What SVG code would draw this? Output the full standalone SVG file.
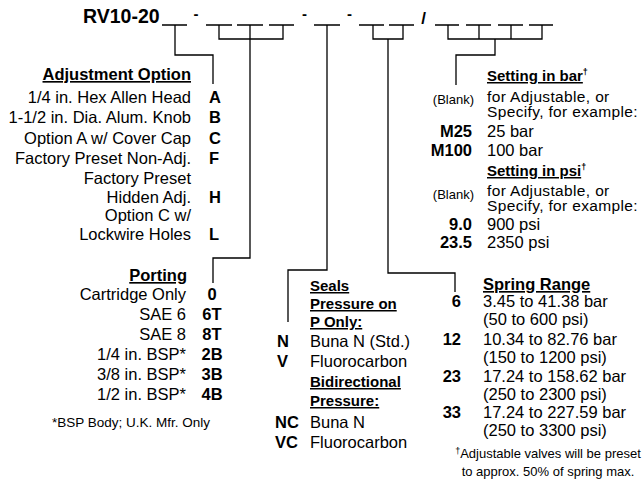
<svg xmlns="http://www.w3.org/2000/svg" width="643" height="488" viewBox="0 0 643 488">
<style>
text{font-family:"Liberation Sans",Arial,sans-serif;fill:#000;}
.r{font-size:16.5px;}
.c{font-size:15.5px;letter-spacing:0.35px;}
.b{font-size:16.5px;font-weight:bold;}
.h{font-size:16.5px;font-weight:bold;text-decoration:underline;}
.hs{font-size:15px;font-weight:bold;text-decoration:underline;}
.s{font-size:13px;}
.e{text-anchor:end;}
.m{text-anchor:middle;}
.ln{fill:none;stroke:#000;stroke-width:1.3;}
</style>
<rect width="643" height="488" fill="#fff"/>
<g id="header">
<text x="83" y="22.5" style="font-size:19.5px;font-weight:bold">RV10-20</text>
<g class="ln">
<path d="M162,25H187M206,25H232M237,25H263M269,25H294M314,25H340M359,25H384M389,25H414M435,25H459M466,25H491M498,25H523M529,25H553"/>
</g>
<text x="196" y="19" class="m" style="font-size:15px;font-weight:bold">-</text>
<text x="304.5" y="19" class="m" style="font-size:15px;font-weight:bold">-</text>
<text x="349.5" y="19" class="m" style="font-size:15px;font-weight:bold">-</text>
<text x="423.5" y="24" class="m" style="font-size:17px;font-weight:bold">/</text>
</g>
<g id="connectors" class="ln">
<path d="M175,25V55H213V84"/>
<path d="M219,25V39H283V25M250,25V258H213V283"/>
<path d="M327,25V270H288V322"/>
<path d="M373,25V39H403V25M388,39V273H455V292"/>
<path d="M448,25V39H542V25M479,25V39M511,25V39M495,39V55H456V85"/>
</g>
<g id="adjustment">
<text x="191" y="80" class="h e">Adjustment Option</text>
<text x="191" y="103" class="r e">1/4 in. Hex Allen Head</text>
<text x="191" y="123" class="r e">1-1/2 in. Dia. Alum. Knob</text>
<text x="191" y="144" class="r e">Option A w/ Cover Cap</text>
<text x="191" y="164" class="r e">Factory Preset Non-Adj.</text>
<text x="191" y="184" class="r e">Factory Preset</text>
<text x="191" y="203" class="r e">Hidden Adj.</text>
<text x="191" y="221" class="r e">Option C w/</text>
<text x="191" y="240" class="r e">Lockwire Holes</text>
<text x="209" y="103" class="b">A</text>
<text x="209" y="123" class="b">B</text>
<text x="209" y="144" class="b">C</text>
<text x="209" y="164" class="b">F</text>
<text x="209" y="203" class="b">H</text>
<text x="209" y="240" class="b">L</text>
</g>
<g id="porting">
<text x="187" y="281" class="h e">Porting</text>
<text x="186" y="300" class="r e">Cartridge Only</text>
<text x="186" y="320" class="r e">SAE 6</text>
<text x="186" y="340" class="r e">SAE 8</text>
<text x="186" y="360" class="r e">1/4 in. BSP*</text>
<text x="186" y="380" class="r e">3/8 in. BSP*</text>
<text x="186" y="400" class="r e">1/2 in. BSP*</text>
<text x="212" y="300" class="b m">0</text>
<text x="212" y="320" class="b m">6T</text>
<text x="212" y="340" class="b m">8T</text>
<text x="212" y="360" class="b m">2B</text>
<text x="212" y="380" class="b m">3B</text>
<text x="212" y="400" class="b m">4B</text>
<text x="131" y="427" class="m" style="font-size:13.5px">*BSP Body; U.K. Mfr. Only</text>
</g>
<g id="seals">
<text x="310" y="291" class="hs">Seals</text>
<text x="310" y="309" class="hs">Pressure on</text>
<text x="310" y="327" class="hs">P Only:</text>
<text x="277" y="347" class="b">N</text>
<text x="310" y="347" class="r">Buna N (Std.)</text>
<text x="277" y="367" class="b">V</text>
<text x="310" y="367" class="r">Fluorocarbon</text>
<text x="310" y="387" class="hs">Bidirectional</text>
<text x="310" y="406" class="hs">Pressure:</text>
<text x="275" y="428" class="b">NC</text>
<text x="310" y="428" class="r">Buna N</text>
<text x="275" y="448" class="b">VC</text>
<text x="310" y="448" class="r">Fluorocarbon</text>
</g>
<g id="setting">
<text x="487" y="81" style="font-size:15px;font-weight:bold"><tspan text-decoration="underline">Setting in bar</tspan><tspan font-size="9" dy="-6">†</tspan></text>
<text x="474" y="104" class="s e">(Blank)</text>
<text x="487" y="102" class="c">for Adjustable, or</text>
<text x="487" y="117" class="c">Specify, for example:</text>
<text x="472" y="137" class="b e">M25</text>
<text x="487" y="137" class="r">25 bar</text>
<text x="472" y="156" class="b e">M100</text>
<text x="487" y="156" class="r">100 bar</text>
<text x="487" y="176" style="font-size:15px;font-weight:bold"><tspan text-decoration="underline">Setting in psi</tspan><tspan font-size="9" dy="-6">†</tspan></text>
<text x="474" y="199" class="s e">(Blank)</text>
<text x="487" y="196" class="c">for Adjustable, or</text>
<text x="487" y="211" class="c">Specify, for example:</text>
<text x="472" y="230" class="b e">9.0</text>
<text x="487" y="230" class="r">900 psi</text>
<text x="472" y="248" class="b e">23.5</text>
<text x="487" y="248" class="r">2350 psi</text>
</g>
<g id="spring">
<text x="483" y="290" class="h">Spring Range</text>
<text x="461" y="307" class="b e">6</text>
<text x="483" y="307" class="r">3.45 to 41.38 bar</text>
<text x="483" y="325" class="r">(50 to 600 psi)</text>
<text x="461" y="345" class="b e">12</text>
<text x="483" y="345" class="r">10.34 to 82.76 bar</text>
<text x="483" y="363" class="r">(150 to 1200 psi)</text>
<text x="461" y="382" class="b e">23</text>
<text x="483" y="382" class="r">17.24 to 158.62 bar</text>
<text x="483" y="400" class="r">(250 to 2300 psi)</text>
<text x="461" y="418" class="b e">33</text>
<text x="483" y="418" class="r">17.24 to 227.59 bar</text>
<text x="483" y="436" class="r">(250 to 3300 psi)</text>
<text x="548" y="458" class="s m"><tspan font-size="9" dy="-4">†</tspan><tspan dy="4">Adjustable valves will be preset</tspan></text>
<text x="548" y="476" class="s m">to approx. 50% of spring max.</text>
</g>
</svg>
